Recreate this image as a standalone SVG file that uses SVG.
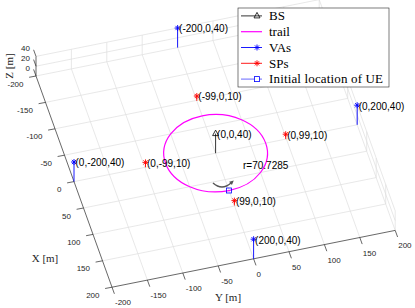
<svg xmlns="http://www.w3.org/2000/svg" width="415" height="308" viewBox="0 0 415 308">
<defs>
<style>
.grid{fill:none;stroke:#dedede;stroke-width:0.7}
.ax{fill:none;stroke:#262626;stroke-width:0.7}
.tick{font-family:"Liberation Sans",Arial,sans-serif;font-size:8px;fill:#262626}
.lab{font-family:"Liberation Serif","Times New Roman",serif;font-size:11px;fill:#262626}
.dl{font-family:"Liberation Sans",Arial,sans-serif;font-size:10px;fill:#000}
.leg{font-family:"Liberation Serif","Times New Roman",serif;font-size:13px;fill:#000}
.va{stroke:#0000ff;stroke-width:0.9;fill:none}
.sp{stroke:#ff0000;stroke-width:0.9;fill:none}
.bs{stroke:#000;stroke-width:0.8;fill:none}
</style>
<g id="star"><path d="M-3,0H3M0,-3V3M-2.1,-2.1L2.1,2.1M-2.1,2.1L2.1,-2.1"/></g>
<g id="tri"><path d="M0,-3.5L3,2L-3,2Z"/></g>
</defs>
<rect width="415" height="308" fill="#fff"/>
<g id="grid" class="grid">
<path d="M36,76L319.2,19.2M45.5,102.4L328.7,45.6M55,128.8L338.2,72M64.5,155.2L347.7,98.4M74,181.6L357.2,124.8M83.5,208L366.7,151.2M93,234.4L376.2,177.6M102.5,260.8L385.7,204"/>
<path d="M71.4,68.9L147.4,280.1M106.8,61.8L182.8,273M142.2,54.7L218.2,265.9M177.6,47.6L253.6,258.8M213,40.5L289,251.7M248.4,33.4L324.4,244.6M283.8,26.3L359.8,237.5M319.2,19.2L395.2,230.4"/>
<path d="M36,66.2L319.2,9.4M36,56.4L319.2,-0.4"/>
<path d="M71.4,68.9V49.3M106.8,61.8V42.2M142.2,54.7V35.1M177.6,47.6V28M213,40.5V20.9M248.4,33.4V13.8M283.8,26.3V6.7M319.2,19.2V-0.4"/>
<path d="M319.2,9.4L395.2,220.6M319.2,-0.4L395.2,210.8"/>
<path d="M328.7,45.6V26M338.2,72V52.4M347.7,98.4V78.8M357.2,124.8V105.2M366.7,151.2V131.6M376.2,177.6V158M385.7,204V184.4M395.2,230.4V210.8"/>
</g>
<g id="axes" class="ax">
<path d="M36,76L112,287.2L395.2,230.4M36,76V56.4"/>
<path d="M36,76l-6.9,1.3M45.5,102.4l-6.9,1.3M55,128.8l-6.9,1.3M64.5,155.2l-6.9,1.3M74,181.6l-6.9,1.3M83.5,208l-6.9,1.3M93,234.4l-6.9,1.3M102.5,260.8l-6.9,1.3M112,287.2l-6.9,1.3"/>
<path d="M112,287.2l2.4,6.6M147.4,280.1l2.4,6.6M182.8,273l2.4,6.6M218.2,265.9l2.4,6.6M253.6,258.8l2.4,6.6M289,251.7l2.4,6.6M324.4,244.6l2.4,6.6M359.8,237.5l2.4,6.6M395.2,230.4l2.4,6.6"/>
<path d="M36,76l-2.4,-6.6M36,66.2l-2.4,-6.6M36,56.4l-2.4,-6.6"/>
</g>
<g id="ticklabels" class="tick">
<g text-anchor="end">
<text x="23.5" y="86.5">-200</text><text x="33" y="112.9">-150</text><text x="42.5" y="139.3">-100</text><text x="52" y="165.7">-50</text><text x="61.5" y="192.1">0</text><text x="71" y="218.5">50</text><text x="80.5" y="244.9">100</text><text x="90" y="271.3">150</text><text x="99.5" y="297.7">200</text>
<text x="30" y="51.4">40</text><text x="30" y="61.2">20</text><text x="30" y="71">0</text>
</g>
<text x="115" y="305.2">-200</text><text x="150.4" y="298.1">-150</text><text x="185.8" y="291">-100</text><text x="221.2" y="283.9">-50</text><text x="256.6" y="276.8">0</text><text x="292" y="269.7">50</text><text x="327.4" y="262.6">100</text><text x="362.8" y="255.5">150</text><text x="398.2" y="248.4">200</text>
</g>
<g id="axislabels" class="lab" text-anchor="middle">
<text x="45" y="261.5">X [m]</text>
<text x="228" y="300.5">Y [m]</text>
<text transform="translate(12.5,66) rotate(-90)">Z [m]</text>
</g>
<g id="trail">
<circle cx="0" cy="0" r="70.7285" transform="matrix(0.19 0.528 0.708 -0.142 215.6 153.2)" fill="none" stroke="#ff00ff" stroke-width="1.2" vector-effect="non-scaling-stroke"/>
</g>
<g id="direction-arrow">
<path d="M213,183Q222,191 231,183" fill="none" stroke="#555" stroke-width="1.5"/>
<path d="M233.8,180.6L231.9,185.1L229.1,181.8Z" fill="#555"/>
</g>
<g id="BS" class="bs">
<path d="M215.6,133.6V153.2"/>
<use href="#tri" x="215.6" y="133.6"/>
</g>
<g id="VAs" class="va">
<path d="M177.6,28V47.6M253.6,239.2V258.8M357.2,105.2V124.8M74,162V181.6"/>
<use href="#star" x="177.6" y="28"/><use href="#star" x="253.6" y="239.2"/><use href="#star" x="357.2" y="105.2"/><use href="#star" x="74" y="162"/>
</g>
<g id="SPs" class="sp">
<path d="M196.8,96v4.9M234.4,200.6v4.9M285.7,134.2v4.9M145.5,162.4v4.9"/>
<use href="#star" x="196.8" y="96"/><use href="#star" x="234.4" y="200.6"/><use href="#star" x="285.7" y="134.2"/><use href="#star" x="145.5" y="162.4"/>
</g>
<g id="UE">
<rect x="226.5" y="188" width="5" height="5" fill="none" stroke="#0000ff" stroke-width="0.8"/>
</g>
<g id="datalabels" class="dl">
<text x="179.1" y="32.3">(-200,0,40)</text>
<text x="198.3" y="100.3">(-99,0,10)</text>
<text x="217.1" y="137.9">(0,0,40)</text>
<text x="287.2" y="138.5">(0,99,10)</text>
<text x="147" y="166.7">(0,-99,10)</text>
<text x="235.9" y="204.9">(99,0,10)</text>
<text x="255.1" y="243.5">(200,0,40)</text>
<text x="358.7" y="109.5">(0,200,40)</text>
<text x="75.5" y="166.3">(0,-200,40)</text>
<text x="243" y="168.5">r=70.7285</text>
</g>
<g id="legend">
<rect x="238" y="8" width="151" height="79" fill="#fff" stroke="#262626" stroke-width="0.6"/>
<g class="bs"><path d="M241,15.9H262"/><use href="#tri" x="257" y="15.9"/></g>
<path d="M241,31.7H262" stroke="#ff00ff" stroke-width="1.2"/>
<g class="va"><path d="M241,47.5H262"/><use href="#star" x="257" y="47.5"/></g>
<g class="sp"><path d="M241,63.3H262"/><use href="#star" x="257" y="63.3"/></g>
<path d="M241,79.1H262" stroke="#8080ff" stroke-width="1.2"/>
<rect x="254.5" y="76.6" width="5" height="5" fill="#fff" stroke="#0000ff" stroke-width="0.8"/>
<g class="leg">
<text x="269" y="20.2">BS</text>
<text x="269" y="36">trail</text>
<text x="269" y="51.8">VAs</text>
<text x="269" y="67.6">SPs</text>
<text x="269" y="83.4" textLength="114" lengthAdjust="spacing">Initial location of UE</text>
</g>
</g>
</svg>
